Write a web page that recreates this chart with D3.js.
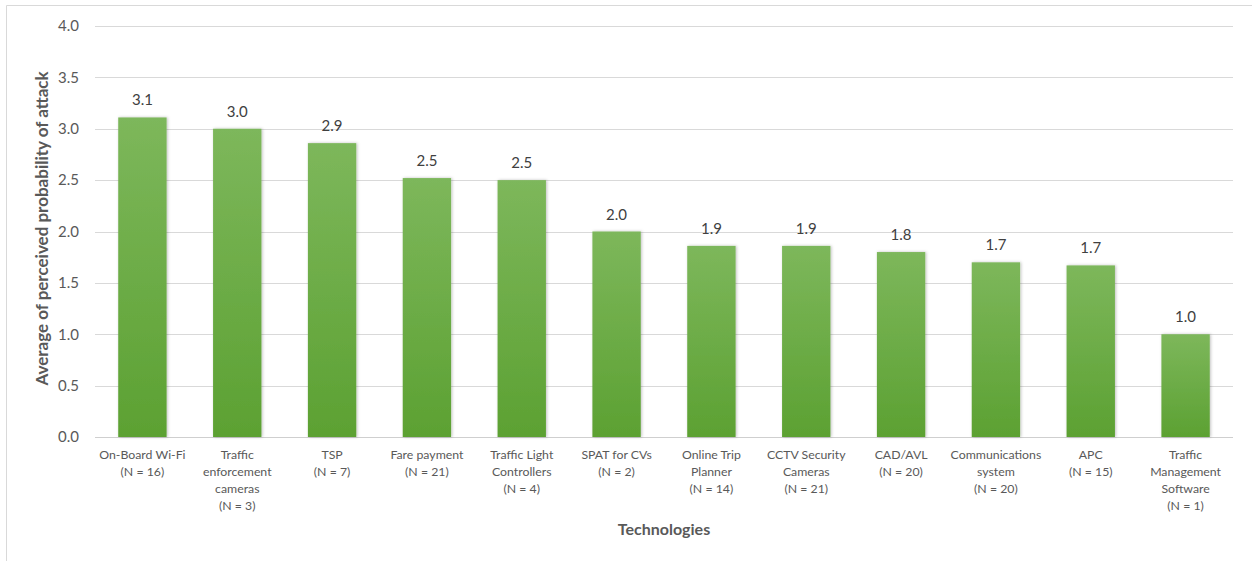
<!DOCTYPE html>
<html>
<head>
<meta charset="utf-8">
<script src="https://cdn.jsdelivr.net/npm/d3@7"></script>
<style>
  body { margin: 0; background: #fff; }
  svg { display: block; font-family: Lato, "Open Sans", sans-serif; }
</style>
</head>
<body>
<svg id="chart" width="1252" height="561"></svg>
<script>
// categories, with the line breaks used on the axis
var categories = [
  "On-Board Wi-Fi",
  "Traffic\nenforcement\ncameras",
  "TSP",
  "Fare payment",
  "Traffic Light\nControllers",
  "SPAT for CVs",
  "Online Trip\nPlanner",
  "CCTV Security\nCameras",
  "CAD/AVL",
  "Communications\nsystem",
  "APC",
  "Traffic\nManagement\nSoftware"
];
var counts = [16, 3, 7, 21, 4, 2, 14, 21, 20, 20, 15, 1];
var values = [3.11, 3.0, 2.86, 2.52, 2.5, 2.0, 1.86, 1.86, 1.8, 1.7, 1.67, 1.0];
var yTicks = [0, 0.5, 1, 1.5, 2, 2.5, 3, 3.5, 4];

var svg = d3.select("#chart");
var margin = {top: 26, right: 19, bottom: 124, left: 95},
    width = 1252 - margin.left - margin.right,
    height = 561 - margin.top - margin.bottom;

// frame line top and left, like the cropped original
svg.append("path")
  .attr("d", "M6.5,561 V5.5 H1252")
  .attr("fill", "none")
  .attr("stroke", "#d9d9d9");

var defs = svg.append("defs");
var grad = defs.append("linearGradient")
  .attr("id", "barGrad")
  .attr("x1", 0).attr("y1", 0).attr("x2", 0).attr("y2", 1);
grad.append("stop").attr("offset", "0%").attr("stop-color", "#7db75b");
grad.append("stop").attr("offset", "100%").attr("stop-color", "#5ca132");

var shadow = defs.append("filter").attr("id", "shadow")
  .attr("x", "-20%").attr("y", "-5%").attr("width", "140%").attr("height", "110%");
shadow.append("feDropShadow")
  .attr("dx", 1).attr("dy", 0).attr("stdDeviation", 1.5)
  .attr("flood-color", "#000").attr("flood-opacity", 0.25);

var x = d3.scaleBand().domain(d3.range(categories.length)).range([0, width]).paddingInner(0.49).paddingOuter(0.245);
var y = d3.scaleLinear().domain([0, 4]).range([height, 0]);

var g = svg.append("g").attr("transform", "translate(" + margin.left + "," + margin.top + ")");

// gridlines
g.append("g")
  .selectAll("line")
  .data(yTicks)
  .enter().append("line")
  .attr("x1", 0).attr("x2", width)
  .attr("y1", function(d) { return Math.round(y(d)) + 0.5; })
  .attr("y2", function(d) { return Math.round(y(d)) + 0.5; })
  .attr("stroke", function(d) { return d === 0 ? "#cfcfcf" : "#d9d9d9"; })
  .attr("stroke-width", 1);

// y axis labels
var yAxis = g.append("g")
  .call(d3.axisLeft(y).tickValues(yTicks).tickFormat(d3.format(".1f")).tickSize(0).tickPadding(16));
yAxis.select(".domain").remove();
yAxis.selectAll("text")
  .attr("fill", "#595959")
  .style("font-size", "15px")
  .style("font-family", "Lato, 'Open Sans', sans-serif");

// bars
g.selectAll(".bar")
  .data(values)
  .enter().append("rect")
  .attr("class", "bar")
  .attr("x", function(d, i) { return x(i); })
  .attr("y", function(d) { return y(d); })
  .attr("width", x.bandwidth())
  .attr("height", function(d) { return height - y(d); })
  .attr("fill", "url(#barGrad)")
  .attr("filter", "url(#shadow)");

// value labels
g.selectAll(".val")
  .data(values)
  .enter().append("text")
  .attr("class", "val")
  .attr("x", function(d, i) { return x(i) + x.bandwidth() / 2; })
  .attr("y", function(d) { return y(d) - 12; })
  .attr("text-anchor", "middle")
  .attr("fill", "#404040")
  .style("font-size", "15px")
  .text(function(d) { return d.toFixed(1); });

// x axis labels
var xAxis = g.append("g")
  .attr("transform", "translate(0," + height + ")")
  .call(d3.axisBottom(x).tickSize(0).tickFormat(""));
xAxis.select(".domain").remove();
xAxis.selectAll(".tick").each(function(i) {
  var lines = categories[i].split("\n").concat(["(N = " + counts[i] + ")"]);
  var t = d3.select(this).append("text")
    .attr("text-anchor", "middle")
    .attr("fill", "#595959")
    .style("font-size", "12.3px")
    .style("font-family", "Lato, 'Open Sans', sans-serif");
  lines.forEach(function(l, k) {
    t.append("tspan").attr("x", 0).attr("y", 22 + k * 17).text(l);
  });
});

// axis titles
svg.append("text")
  .attr("x", margin.left + width / 2)
  .attr("y", 535)
  .attr("text-anchor", "middle")
  .attr("fill", "#595959")
  .style("font-size", "16px")
  .style("font-weight", "bold")
  .text("Technologies");

svg.append("text")
  .attr("transform", "translate(48," + (margin.top + height / 2 - 3) + ") rotate(-90)")
  .attr("text-anchor", "middle")
  .attr("fill", "#595959")
  .style("font-size", "17px")
  .style("font-weight", "bold")
  .text("Average of perceived probability of attack");
</script>
</body>
</html>
